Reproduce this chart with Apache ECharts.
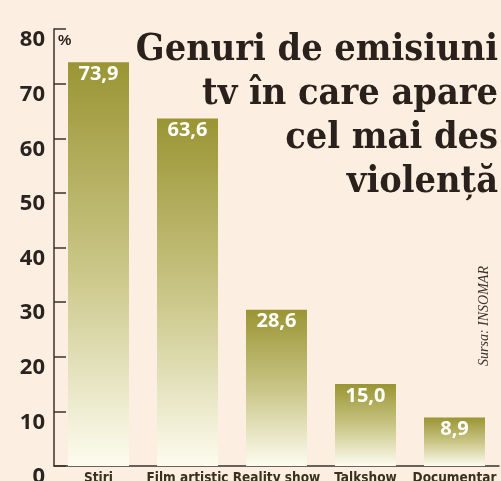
<!DOCTYPE html>
<html>
<head>
<meta charset="utf-8">
<script src="https://cdn.jsdelivr.net/npm/echarts@6/dist/echarts.min.js"></script>
<style>
    html, body { margin: 0; padding: 0; background: #fcefe1; }
    #chart { width: 501px; height: 481px; }
</style>
</head>
<body>
<div id="chart"></div>
<script>
// Genuri de emisiuni tv in care apare cel mai des violenta
var categories = ['Stiri', 'Film artistic', 'Reality show', 'Talkshow', 'Documentar'];
var values = [73.9, 63.6, 28.6, 15.0, 8.9];
var yTicks = [0, 10, 20, 30, 40, 50, 60, 70, 80];
var titleLines = ['Genuri de emisiuni', 'tv în care apare', 'cel mai des', 'violență'];
var sourceText = 'Sursa: INSOMAR';

var chart = echarts.init(document.getElementById('chart'));

var option = {
    backgroundColor: '#fcefe1',
    animation: false,
    grid: {
        left: 54,
        right: 2,
        top: 29,
        bottom: 15,
        outerBoundsMode: 'none'
    },
    graphic: [
        {
            type: 'text',
            x: 498,
            y: 28,
            z: 100,
            style: {
                text: titleLines.join('\n'),
                align: 'right',
                verticalAlign: 'top',
                fill: '#2a211c',
                font: 'bold 37.5px "DejaVu Serif Condensed", "DejaVu Serif", serif',
                lineHeight: 44
            }
        },
        {
            type: 'text',
            x: 484,
            y: 316,
            z: 100,
            rotation: Math.PI / 2,
            style: {
                text: sourceText,
                align: 'center',
                verticalAlign: 'middle',
                fill: '#3a322c',
                font: 'italic 14px "Liberation Serif", serif'
            }
        }
    ],
    xAxis: {
        type: 'category',
        data: categories,
        axisLine: {
            lineStyle: { color: '#3a332c', width: 1.5 }
        },
        axisTick: {
            inside: true,
            length: 9,
            lineStyle: { color: '#3a332c', width: 1.5 }
        },
        axisLabel: {
            interval: 0,
            hideOverlap: false,
            margin: 5,
            color: '#3a3020',
            fontSize: 13.5,
            fontWeight: 'bold',
            fontFamily: '"DejaVu Sans Condensed", sans-serif'
        }
    },
    yAxis: {
        type: 'value',
        min: yTicks[0],
        max: yTicks[yTicks.length - 1],
        interval: 10,
        name: '%',
        nameLocation: 'end',
        nameGap: -4,
        nameTextStyle: {
            align: 'left',
            verticalAlign: 'top',
            padding: [0, 0, 0, 4],
            color: '#2a211c',
            fontSize: 15,
            fontWeight: 'bold'
        },
        axisLine: {
            show: true,
            lineStyle: { color: '#3a332c', width: 1.5 }
        },
        axisTick: {
            show: true,
            inside: true,
            length: 12,
            lineStyle: { color: '#3a332c', width: 1.5 }
        },
        splitLine: { show: false },
        axisLabel: {
            margin: 9,
            formatter: '{v|{value}}',
            rich: {
                v: {
                    padding: [22, 0, 0, 0],
                    color: '#2a2420',
                    fontSize: 22,
                    fontWeight: 'bold',
                    fontFamily: '"Open Sans", "DejaVu Sans", sans-serif'
                }
            }
        }
    },
    series: [
        {
            type: 'bar',
            data: values,
            barWidth: 61,
            itemStyle: {
                color: new echarts.graphic.LinearGradient(0, 0, 0, 1, [
                    { offset: 0, color: '#9a9533' },
                    { offset: 0.5, color: '#c9c585' },
                    { offset: 1, color: '#fdfcef' }
                ])
            },
            label: {
                show: true,
                position: 'insideTop',
                distance: 2,
                color: '#ffffff',
                fontSize: 20,
                fontWeight: 'bold',
                fontFamily: '"Open Sans", "DejaVu Sans", sans-serif',
                formatter: function (p) {
                    return p.value.toFixed(1).replace('.', ',');
                }
            }
        }
    ]
};

chart.setOption(option);
</script>
</body>
</html>
